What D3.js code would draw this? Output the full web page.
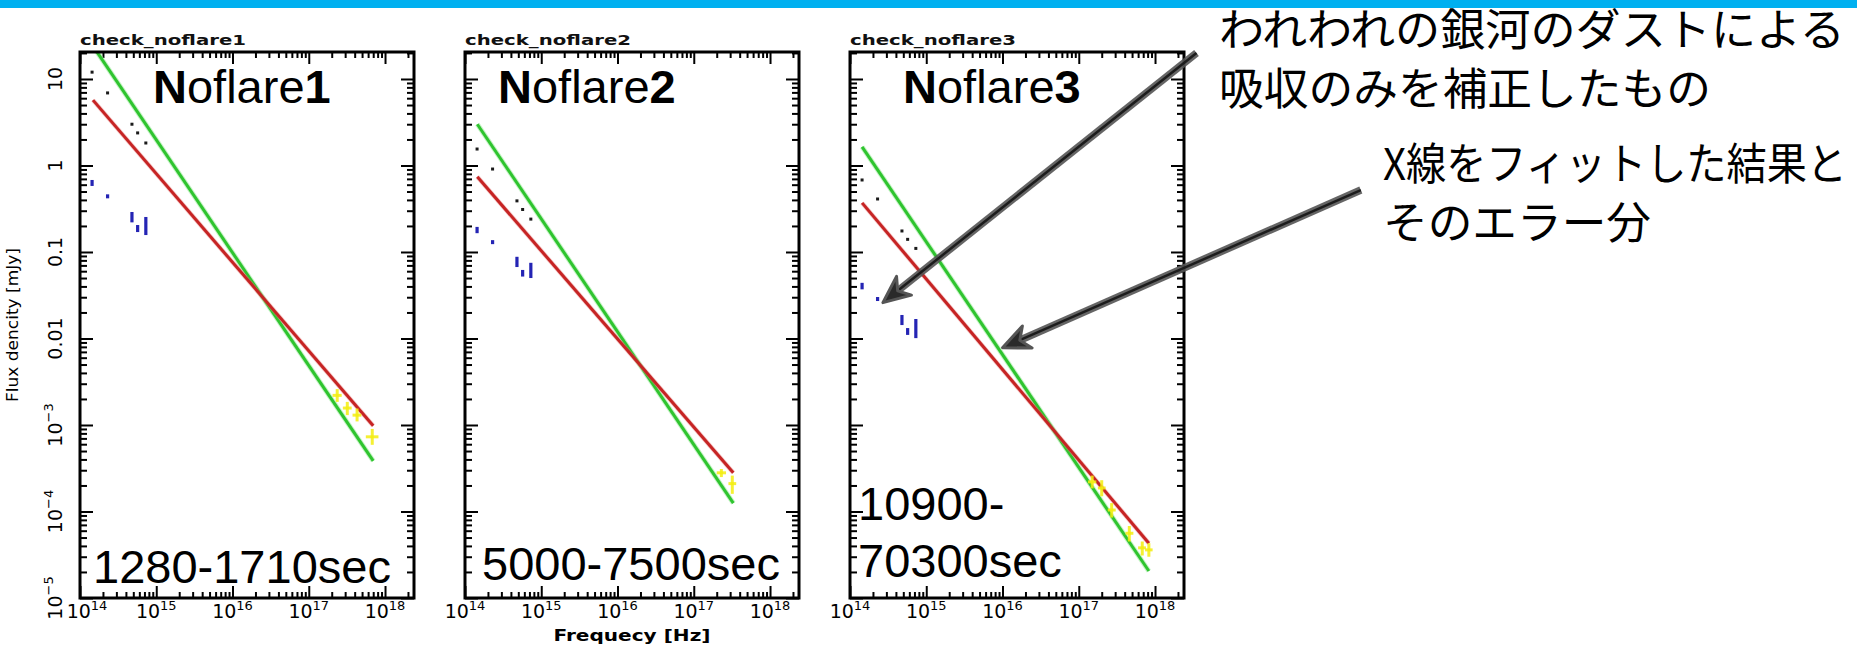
<!DOCTYPE html>
<html><head><meta charset="utf-8">
<script src="https://cdn.jsdelivr.net/npm/d3@7"></script>
<style>html,body{margin:0;padding:0;background:#fff;} svg{display:block;}</style>
</head><body><svg id="c" width="1857" height="646"></svg>
<script>
// ---------------- data ----------------
const panelTitles = ["check_noflare1", "check_noflare2", "check_noflare3"];
const panelNames = [["N", "oflare", "1"], ["N", "oflare", "2"], ["N", "oflare", "3"]];
const timeRanges = [["1280-1710sec"], ["5000-7500sec"], ["10900-", "70300sec"]];

// optical / NIR frequencies [Hz]
const optFreq = [1.44e14, 2.3e14, 4.8e14, 5.7e14, 7.3e14];
// flux corrected for Galactic dust only (black) [mJy]
const corrected1 = [12.0, 6.9, 3.0, 2.38, 1.82];
const corrected2 = [1.55, 0.91, 0.39, 0.31, 0.24];
const corrected3 = [0.68, 0.41, 0.175, 0.14, 0.11];
// observed flux (blue) with ranges
const observed1 = [0.63, 0.44, 0.25, 0.19, 0.2];
const observedLo1 = [0.58, 0.43, 0.22, 0.17, 0.157];
const observedHi1 = [0.68, 0.45, 0.29, 0.205, 0.254];
const observed2 = [0.18, 0.13, 0.077, 0.056, 0.06];
const observedLo2 = [0.165, 0.125, 0.067, 0.052, 0.05];
const observedHi2 = [0.195, 0.135, 0.088, 0.062, 0.075];
const observed3 = [0.041, 0.0286, 0.0165, 0.012, 0.013];
const observedLo3 = [0.037, 0.0277, 0.0143, 0.011, 0.0101];
const observedHi3 = [0.044, 0.0295, 0.0187, 0.0132, 0.0168];

// X-ray points (yellow)
const xrayFreq1 = [2.36e17, 3.2e17, 4.3e17, 6.8e17];
const xrayFreqLo1 = [2.05e17, 2.8e17, 3.75e17, 5.6e17];
const xrayFreqHi1 = [2.7e17, 3.65e17, 4.9e17, 8.2e17];
const xrayFlux1 = [2.2e-3, 1.57e-3, 1.3e-3, 7.3e-4];
const xrayFluxLo1 = [1.85e-3, 1.3e-3, 1.1e-3, 5.9e-4];
const xrayFluxHi1 = [2.6e-3, 1.85e-3, 1.55e-3, 9.0e-4];

const xrayFreq2 = [2.3e17, 3.2e17];
const xrayFreqLo2 = [2.0e17, 2.85e17];
const xrayFreqHi2 = [2.65e17, 3.6e17];
const xrayFlux2 = [2.8e-4, 2.1e-4];
const xrayFluxLo2 = [2.5e-4, 1.6e-4];
const xrayFluxHi2 = [3.1e-4, 2.6e-4];

const xrayFreq3 = [1.5e17, 2.0e17, 2.7e17, 4.6e17, 6.8e17, 8.3e17];
const xrayFreqLo3 = [1.32e17, 1.78e17, 2.4e17, 4.1e17, 6.0e17, 7.4e17];
const xrayFreqHi3 = [1.7e17, 2.25e17, 3.05e17, 5.2e17, 7.6e17, 9.3e17];
const xrayFlux3 = [2.2e-4, 1.87e-4, 1.04e-4, 5.6e-5, 3.8e-5, 3.6e-5];
const xrayFluxLo3 = [1.85e-4, 1.5e-4, 8.5e-5, 4.5e-5, 3.1e-5, 3.0e-5];
const xrayFluxHi3 = [2.6e-4, 2.3e-4, 1.25e-4, 6.8e-5, 4.5e-5, 4.3e-5];

// power-law fits: [freq, flux] end points
const redFit1 = [[1.48e14, 5.7], [7.0e17, 9.8e-4]];
const greenFit1 = [[1.48e14, 24], [7.0e17, 3.84e-4]];
const redFit2 = [[1.45e14, 0.74], [3.3e17, 2.8e-4]];
const greenFit2 = [[1.45e14, 3.0], [3.3e17, 1.25e-4]];
const redFit3 = [[1.44e14, 0.37], [8.3e17, 4.3e-5]];
const greenFit3 = [[1.44e14, 1.64], [8.3e17, 2.05e-5]];

// axis ticks
const xTickExp = [14, 15, 16, 17, 18];
const yTickValues = [10, 1, 0.1, 0.01, 1e-3, 1e-4, 1e-5];
const yTickText = ["10", "1", "0.1", "0.01", "10", "10", "10"];
const yTickSup = ["", "", "", "", "\u22123", "\u22124", "\u22125"];
const xAxisTitle = "Frequecy [Hz]";
const yAxisTitle = "Flux dencity [mJy]";

// annotations (Japanese) and arrow ends in panel-3 data coordinates
const note1 = ["われわれの銀河のダストによる", "吸収のみを補正したもの"];
const note2 = ["X線をフィットした結果と", "そのエラー分"];
const arrow1 = [[3.5e18, 20], [2.7e14, 0.026]];
const arrow2 = [[5.0e20, 0.52], [1.0e16, 0.0078]];

// ---------------- layout ----------------
const svg = d3.select("#c");
const W = 1857, H = 646;
const panelLeft = [80, 465, 850];
const panelTop = 52, pw = 334, ph = 546;
const nameX = [73, 33, 53];
const timeX = [13, 17, 8];
const timeY = [[531], [528], [468, 525]];

svg.append("rect").attr("x", 0).attr("y", 0).attr("width", W).attr("height", 8).attr("fill", "#00b0f0");

const x = d3.scaleLog().domain([1e14, Math.pow(10, 18.38)]).range([0, pw]);
const y = d3.scaleLog().domain([1e-5, Math.pow(10, 1.312)]).range([ph, 0]);

const xMaj = xTickExp.map(e => Math.pow(10, e));
const xMin = [];
for (let e = 14; e <= 18; e++) for (let k = 2; k <= 9; k++) { const v = k * Math.pow(10, e); if (v <= x.domain()[1]) xMin.push(v); }
const yMaj = yTickValues.slice();
const yMin = [];
for (let e = -5; e <= 1; e++) for (let k = 2; k <= 9; k++) { const v = k * Math.pow(10, e); if (v <= y.domain()[1]) yMin.push(v); }

const panels = [
  {corr: corrected1, obs: observed1, lo: observedLo1, hi: observedHi1,
   xf: xrayFreq1, xfl: xrayFreqLo1, xfh: xrayFreqHi1, xv: xrayFlux1, xvl: xrayFluxLo1, xvh: xrayFluxHi1,
   red: redFit1, green: greenFit1},
  {corr: corrected2, obs: observed2, lo: observedLo2, hi: observedHi2,
   xf: xrayFreq2, xfl: xrayFreqLo2, xfh: xrayFreqHi2, xv: xrayFlux2, xvl: xrayFluxLo2, xvh: xrayFluxHi2,
   red: redFit2, green: greenFit2},
  {corr: corrected3, obs: observed3, lo: observedLo3, hi: observedHi3,
   xf: xrayFreq3, xfl: xrayFreqLo3, xfh: xrayFreqHi3, xv: xrayFlux3, xvl: xrayFluxLo3, xvh: xrayFluxHi3,
   red: redFit3, green: greenFit3}
];

const line = d3.line().x(d => x(d[0])).y(d => y(d[1]));
const sans = "'Liberation Sans', Arial, Helvetica, sans-serif";
const tickFont = "'DejaVu Sans', sans-serif";

panels.forEach((p, i) => {
  const g = svg.append("g").attr("transform", `translate(${panelLeft[i]},${panelTop})`);
  g.append("clipPath").attr("id", "clip" + i).append("rect").attr("width", pw).attr("height", ph);
  g.append("rect").attr("width", pw).attr("height", ph).attr("fill", "#fff");

  // ticks
  const defs = [
    [d3.axisBottom(x), `translate(0,${ph})`, xMaj, xMin, 12, 6],
    [d3.axisTop(x), `translate(0,0)`, xMaj, xMin, 12, 6],
    [d3.axisLeft(y), `translate(0,0)`, yMaj, yMin, 13, 7],
    [d3.axisRight(y), `translate(${pw},0)`, yMaj, yMin, 13, 7]
  ];
  defs.forEach(([ax, tr, maj, min, lm, ln]) => {
    const a1 = g.append("g").attr("transform", tr)
      .call(ax.tickValues(min).tickSize(-ln).tickFormat(() => ""));
    a1.select(".domain").remove();
    a1.selectAll("line").attr("stroke", "#000").attr("stroke-width", 2);
    const a2 = g.append("g").attr("transform", tr)
      .call(ax.tickValues(maj).tickSize(-lm).tickFormat(() => ""));
    a2.select(".domain").remove();
    a2.selectAll("line").attr("stroke", "#000").attr("stroke-width", 2);
  });

  const inner = g.append("g").attr("clip-path", `url(#clip${i})`);
  // fits
  inner.append("path").attr("d", line(p.green)).attr("stroke", "#8fe88f").attr("stroke-width", 5).attr("fill", "none").attr("opacity", 0.5);
  inner.append("path").attr("d", line(p.green)).attr("stroke", "#2fc42f").attr("stroke-width", 3).attr("fill", "none");
  inner.append("path").attr("d", line(p.red)).attr("stroke", "#e58080").attr("stroke-width", 4.5).attr("fill", "none").attr("opacity", 0.4);
  inner.append("path").attr("d", line(p.red)).attr("stroke", "#c62424").attr("stroke-width", 3).attr("fill", "none");

  // dust-corrected points
  inner.selectAll(".corr").data(optFreq).join("rect")
    .attr("x", (d) => x(d) - 1.5).attr("y", (d, j) => y(p.corr[j]) - 1.5)
    .attr("width", 3).attr("height", 3).attr("fill", "#1a1a1a");
  // observed points
  inner.selectAll(".obs").data(optFreq).join("rect")
    .attr("x", (d) => x(d) - 1.6)
    .attr("y", (d, j) => Math.min(y(p.hi[j]), y(p.obs[j]) - 2))
    .attr("width", 3.2)
    .attr("height", (d, j) => Math.max(y(p.lo[j]) - y(p.hi[j]), 4))
    .attr("fill", "#2424b4");
  // X-ray crosses
  const xr = inner.selectAll(".xr").data(p.xf).join("g");
  xr.append("line").attr("x1", (d, j) => x(p.xfl[j])).attr("x2", (d, j) => x(p.xfh[j]))
    .attr("y1", (d, j) => y(p.xv[j])).attr("y2", (d, j) => y(p.xv[j]));
  xr.append("line").attr("x1", d => x(d)).attr("x2", d => x(d))
    .attr("y1", (d, j) => y(p.xvl[j])).attr("y2", (d, j) => y(p.xvh[j]));
  xr.selectAll("line").attr("stroke", "#f4ee10").attr("stroke-width", 3).attr("opacity", 0.85);

  // frame
  g.append("rect").attr("width", pw).attr("height", ph).attr("fill", "none").attr("stroke", "#000").attr("stroke-width", 3);

  // title
  g.append("text").attr("x", 0).attr("y", -7).text(panelTitles[i])
    .attr("font-family", tickFont).attr("font-weight", "bold").attr("font-size", 14)
    .attr("textLength", 166).attr("lengthAdjust", "spacingAndGlyphs").attr("fill", "#111");

  // x tick labels
  xTickExp.forEach((e, k) => {
    const t = g.append("text").attr("x", x(Math.pow(10, e)) + (i === 0 && k === 0 ? 7 : 0)).attr("y", ph + 20)
      .attr("text-anchor", "middle").attr("font-family", tickFont).attr("font-size", 19).attr("fill", "#000");
    t.append("tspan").text("10");
    t.append("tspan").attr("dy", -8).attr("font-size", 13).text(e);
  });

  // big labels
  const nm = g.append("text").attr("x", nameX[i]).attr("y", 51).attr("font-family", sans).attr("font-size", 47).attr("fill", "#000");
  nm.append("tspan").attr("font-weight", "bold").text(panelNames[i][0]);
  nm.append("tspan").attr("font-weight", "normal").text(panelNames[i][1]);
  nm.append("tspan").attr("font-weight", "bold").text(panelNames[i][2]);
  timeRanges[i].forEach((s, k) => {
    g.append("text").attr("x", timeX[i]).attr("y", timeY[i][k]).attr("font-family", sans)
      .attr("font-size", 47).attr("fill", "#000").text(s);
  });

  if (i === 0) {
    yTickValues.forEach((v, k) => {
      const t = g.append("text").attr("transform", `translate(-18,${y(v)}) rotate(-90)`)
        .attr("text-anchor", "middle").attr("font-family", tickFont).attr("font-size", 19).attr("fill", "#000");
      t.append("tspan").text(yTickText[k]);
      if (yTickSup[k]) t.append("tspan").attr("dy", -9).attr("font-size", 13).text(yTickSup[k]);
    });
    g.append("text").attr("transform", `translate(-62,${325 - panelTop}) rotate(-90)`)
      .attr("text-anchor", "middle").attr("font-family", tickFont).attr("font-size", 16)
      .attr("textLength", 154).attr("lengthAdjust", "spacingAndGlyphs").text(yAxisTitle);
  }
  if (i === 1) {
    g.append("text").attr("x", 632 - panelLeft[1]).attr("y", 641 - panelTop).attr("text-anchor", "middle")
      .attr("font-family", tickFont).attr("font-weight", "bold").attr("font-size", 16)
      .attr("textLength", 157).attr("lengthAdjust", "spacingAndGlyphs").text(xAxisTitle);
  }
});

// arrows (panel-3 data coords)
function drawArrow(a) {
  const ox = panelLeft[2], oy = panelTop;
  const x1 = ox + x(a[0][0]), y1 = oy + y(a[0][1]);
  const x2 = ox + x(a[1][0]), y2 = oy + y(a[1][1]);
  const ang = Math.atan2(y2 - y1, x2 - x1);
  const ux = Math.cos(ang), uy = Math.sin(ang), px = -uy, py = ux;
  const L = 27, Wd = 12;
  const bx = x2 - ux * L * 0.7, by = y2 - uy * L * 0.7;
  const ag = svg.append("g");
  ag.append("line").attr("x1", x1).attr("y1", y1).attr("x2", bx).attr("y2", by)
    .attr("stroke", "#555").attr("stroke-width", 7.5).attr("opacity", 0.9);
  ag.append("line").attr("x1", x1).attr("y1", y1).attr("x2", bx).attr("y2", by)
    .attr("stroke", "#1c1c1c").attr("stroke-width", 2.5);
  const head = `M${x2},${y2} L${x2 - ux * L + px * Wd},${y2 - uy * L + py * Wd} L${bx},${by} L${x2 - ux * L - px * Wd},${y2 - uy * L - py * Wd} Z`;
  ag.append("path").attr("d", head).attr("fill", "#2a2a2a").attr("stroke", "#555").attr("stroke-width", 3).attr("stroke-linejoin", "round");
}
drawArrow(arrow1);
drawArrow(arrow2);

// annotation text
const jp = "'Noto Sans CJK JP', sans-serif";
const noteLayout = [[1219, 46, 626], [1219, 105, 492], [1383, 180, 464], [1383, 239, 268]];
[...note1, ...note2].forEach((s, k) => {
  const [lx, ly, lw] = noteLayout[k];
  svg.append("text").attr("x", lx).attr("y", ly).attr("font-family", jp).attr("font-size", 44)
    .attr("textLength", lw).attr("lengthAdjust", "spacingAndGlyphs").attr("fill", "#000").text(s);
});
</script></body></html>
